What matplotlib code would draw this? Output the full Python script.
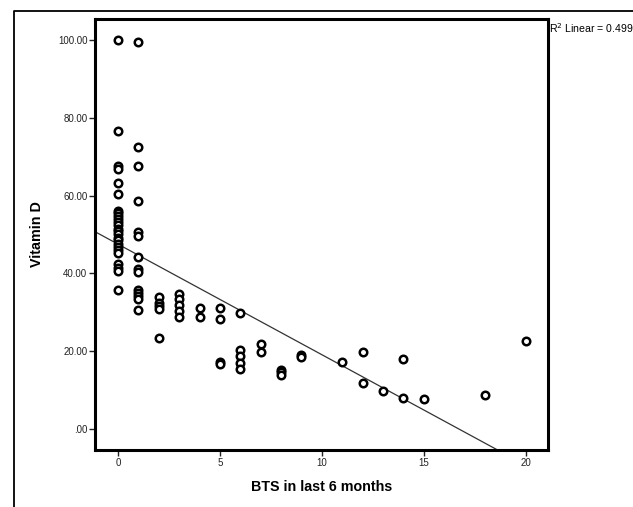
import numpy as np
import matplotlib.pyplot as plt
from matplotlib.lines import Line2D
from matplotlib.ticker import FuncFormatter

plt.rcParams['font.family'] = ['Liberation Sans', 'DejaVu Sans']

# BTS in last 6 months vs Vitamin D
bts = [0] * 25 + [1] * 14 + [2] * 5 + [3] * 5 + [4] * 2 + [5] * 4 + [6] * 5 \
    + [7] * 2 + [8] * 3 + [9] * 2 + [11, 12, 12, 13, 14, 14, 15, 18, 20]
vitd = [100.0, 76.6, 67.6, 66.8, 63.2, 60.5,
        56.0, 55.5, 54.8, 54.0, 53.2, 52.5, 51.5, 50.8, 50.0, 49.2, 48.5,
        47.6, 46.8, 46.0, 45.2, 42.3, 41.5, 40.6, 35.8,
        99.4, 72.6, 67.5, 58.6, 50.5, 49.5, 44.2, 41.0, 40.3, 35.8, 35.0,
        34.2, 33.5, 30.6,
        33.9, 32.5, 31.6, 30.8, 23.3,
        34.7, 33.3, 31.9, 30.3, 28.9,
        31.1, 28.9,
        31.0, 28.3, 17.3, 16.8,
        29.8, 20.3, 18.8, 17.0, 15.3,
        21.8, 19.7,
        15.2, 14.6, 14.0,
        19.0, 18.6,
        17.2, 19.8, 11.8, 9.8, 18.0, 7.9, 7.7, 8.7, 22.6]

# fit line as shown in the chart
fit_intercept = 47.5
fit_slope = -2.84
r2_text = 'R$^2$ Linear = 0.499'

xticks = [0, 5, 10, 15, 20]
yticks = [0, 20, 40, 60, 80, 100]

fig = plt.figure(figsize=(6.33, 5.07), dpi=100)
ax = fig.add_axes([95 / 633, 1 - 450 / 507, 453 / 633, 431.5 / 507])

ax.plot(bts, vitd, 'o', ls='none', ms=5.4, mfc='white', mec='black', mew=1.8, zorder=3)

ax.set_xlim(-1.13, 21.1)
ax.set_ylim(-5.4, 105.5)
xl = np.array(ax.get_xlim())
ax.plot(xl, fit_intercept + fit_slope * xl, color='#333333', lw=0.9, zorder=2)

ax.set_xticks(xticks)
ax.set_yticks(yticks)
ax.yaxis.set_major_formatter(FuncFormatter(lambda v, p: ('%.2f' % v).lstrip('0') if v == 0 else '%.2f' % v))
ax.tick_params(direction='out', length=4, width=1, labelsize=7, colors='#222222', pad=1.5)
for s in ax.spines.values():
    s.set_linewidth(2.2)
    s.set_color('black')

ax.set_xlabel('BTS in last 6 months', fontsize=10.3, fontweight='bold', labelpad=9)
ax.set_ylabel('Vitamin D', fontsize=10.3, fontweight='bold', labelpad=10)

fig.text(549 / 633, 1 - 28 / 507, r2_text, fontsize=7.6, ha='left', va='center')

# outer frame
fig.add_artist(Line2D([14 / 633, 14 / 633, 1.0], [0.0, 1 - 11 / 507, 1 - 11 / 507],
                      transform=fig.transFigure, color='black', lw=1.3))

fig.savefig('out.png', dpi=100)
